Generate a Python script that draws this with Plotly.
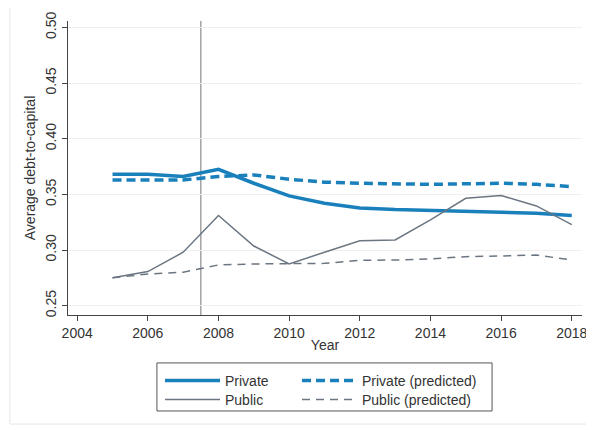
import plotly.graph_objects as go

years = [2005, 2006, 2007, 2008, 2009, 2010, 2011, 2012, 2013, 2014, 2015, 2016, 2017, 2018]
private = [0.368, 0.368, 0.366, 0.3725, 0.360, 0.3486, 0.342, 0.3378, 0.3363, 0.3357, 0.335, 0.334, 0.333, 0.331]
private_pred = [0.363, 0.363, 0.363, 0.366, 0.3675, 0.3636, 0.361, 0.360, 0.3595, 0.359, 0.3595, 0.360, 0.359, 0.357]
public = [0.275, 0.2806, 0.298, 0.331, 0.3036, 0.2875, 0.298, 0.3084, 0.309, 0.327, 0.3465, 0.349, 0.3396, 0.3228]
public_pred = [0.275, 0.2785, 0.280, 0.2866, 0.2875, 0.2875, 0.288, 0.2908, 0.291, 0.292, 0.294, 0.2946, 0.2955, 0.291]

x_ticks = [2004, 2006, 2008, 2010, 2012, 2014, 2016, 2018]
y_ticks = [0.25, 0.30, 0.35, 0.40, 0.45, 0.50]
event_year = 2007.5

BLUE = "#1a80bc"
GRAY = "#6b7682"
FONT = "Liberation Sans, Arial, sans-serif"
TXT = "#333333"

fig = go.Figure()
fig.add_trace(go.Scatter(x=years, y=private, mode="lines", name="Private",
                         line=dict(color=BLUE, width=3.5), legend="legend"))
fig.add_trace(go.Scatter(x=years, y=private_pred, mode="lines", name="Private (predicted)",
                         line=dict(color=BLUE, width=3.5, dash="9px,5px"), legend="legend2"))
fig.add_trace(go.Scatter(x=years, y=public, mode="lines", name="Public",
                         line=dict(color=GRAY, width=1.5), legend="legend3"))
fig.add_trace(go.Scatter(x=years, y=public_pred, mode="lines", name="Public (predicted)",
                         line=dict(color=GRAY, width=1.5, dash="8px,6px"), legend="legend4"))

fig.add_shape(type="line", xref="x", yref="paper", x0=event_year, x1=event_year, y0=0, y1=1,
              line=dict(color="#8c8c8c", width=1.2), layer="below")
# legend border
fig.add_shape(type="rect", xref="paper", yref="paper", x0=0.173, x1=0.825, y0=-0.3265, y1=-0.163,
              line=dict(color="#555555", width=1))
# outer graph region frame
fig.add_shape(type="rect", xref="paper", yref="paper", x0=-0.113, x1=1.05, y0=-0.371, y1=1.054,
              line=dict(color="#e6e6e6", width=1))

leg_common = dict(font=dict(family=FONT, size=14, color=TXT), bgcolor="rgba(0,0,0,0)",
                  borderwidth=0, orientation="v", yanchor="middle", xanchor="left",
                  tracegroupgap=0, itemwidth=55)
row1 = (315 - 381) / 294
row2 = (315 - 400) / 294
col1 = (160 - 68) / 514
col2 = (297 - 68) / 514
fig.update_layout(
    width=586, height=422,
    margin=dict(l=60, r=12, t=13, b=115),
    paper_bgcolor="white", plot_bgcolor="white",
    font=dict(family=FONT, size=14, color=TXT),
    showlegend=True,
    legend=dict(x=col1, y=row1, **leg_common),
    legend2=dict(x=col2, y=row1, **leg_common),
    legend3=dict(x=col1, y=row2, **leg_common),
    legend4=dict(x=col2, y=row2, **leg_common),
    xaxis=dict(range=[2003.74, 2018.29], tickvals=x_ticks, ticks="outside", ticklen=5,
               tickcolor="#444", showline=True, linecolor="#444", linewidth=1,
               showgrid=False, zeroline=False, automargin=False,
               tickfont=dict(family=FONT, size=14, color=TXT),
               title=dict(text="Year", font=dict(family=FONT, size=14, color=TXT), standoff=0)),
    yaxis=dict(range=[0.2416, 0.5058], tickvals=y_ticks, tickformat=".2f", ticks="outside",
               ticklen=5, tickcolor="#444", tickangle=-90, showline=True, linecolor="#444",
               linewidth=1, showgrid=True, gridcolor="#efefef", gridwidth=1, zeroline=False,
               automargin=False,
               tickfont=dict(family=FONT, size=14, color=TXT),
               title=dict(text="Average debt-to-capital", font=dict(family=FONT, size=14, color=TXT),
                          standoff=4)),
)

fig.write_html("out.html")
